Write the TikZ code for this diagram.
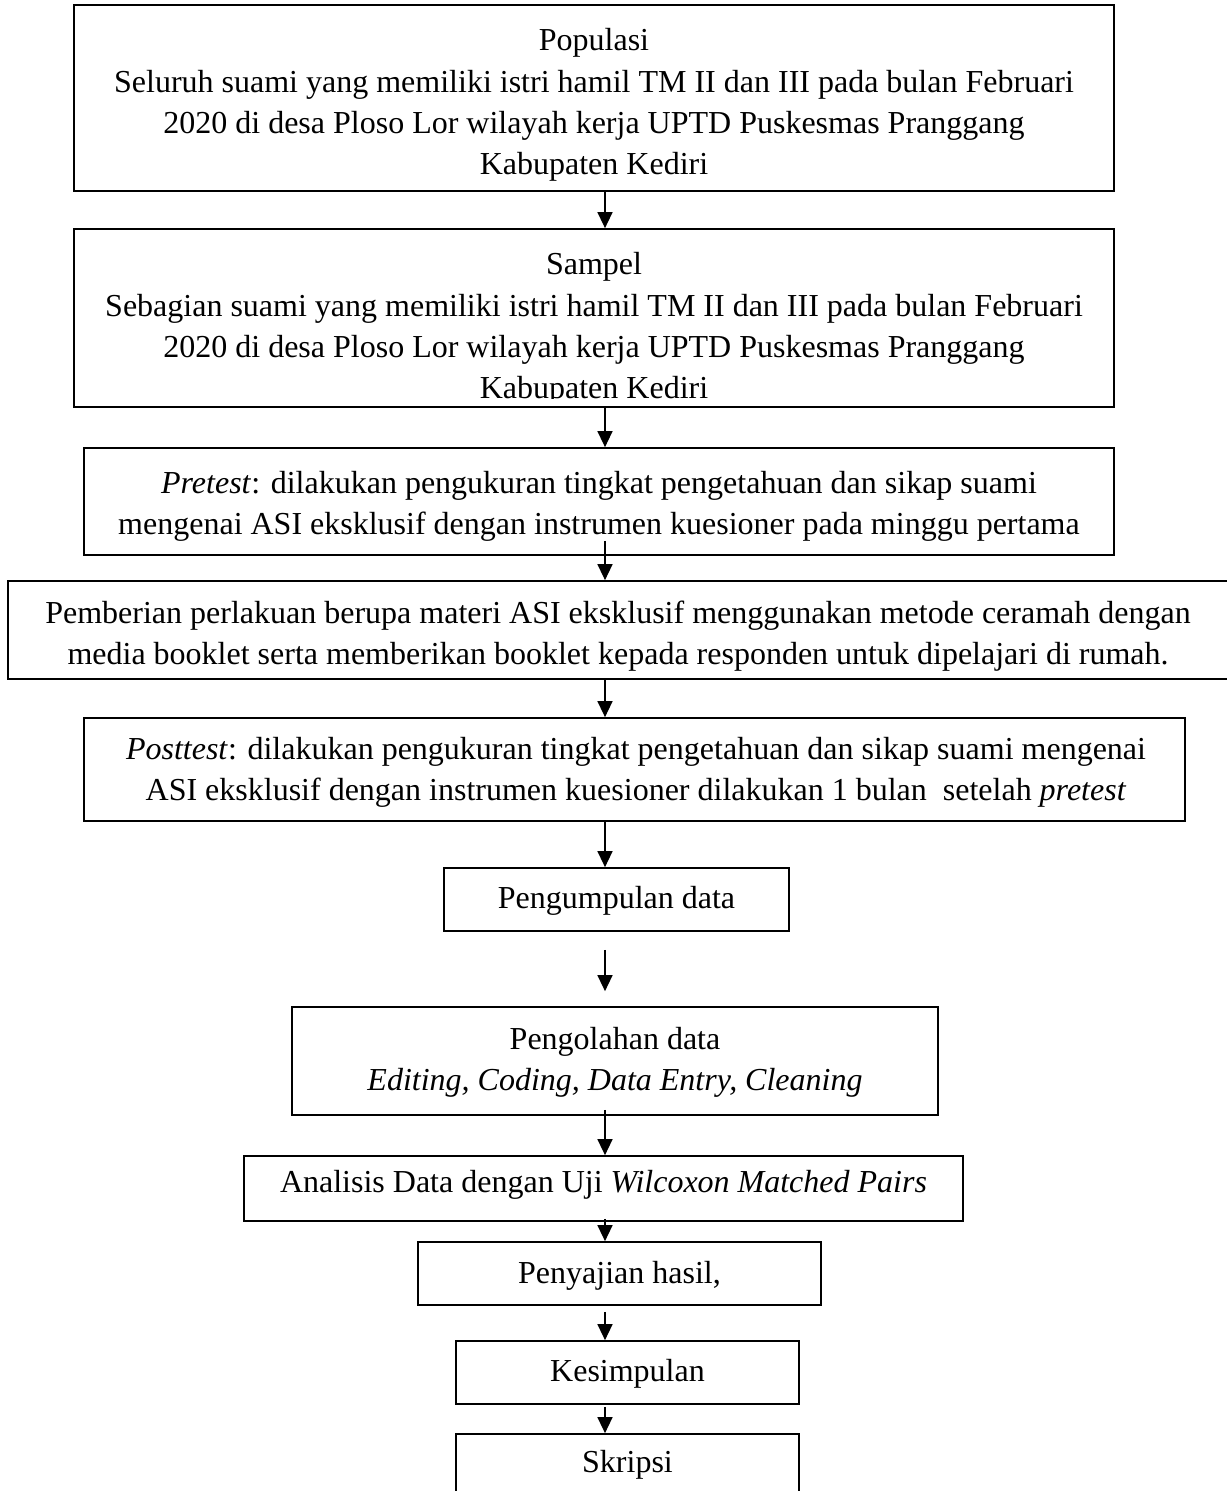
\documentclass[tikz,border=0pt]{standalone}
\usepackage{fontspec}
\setmainfont{Liberation Serif}
\usetikzlibrary{arrows.meta}
\begin{document}
\begin{tikzpicture}[x=0.5pt,y=-0.5pt,
  box/.style={draw, line width=0.85pt, inner sep=0pt},
  txt/.style={inner sep=0pt, align=center, font=\fontsize{16pt}{20.6pt}\selectfont},
  arr/.style={line width=0.7pt, -{Triangle[length=8pt,width=7.5pt]}}]
\useasboundingbox (0,0) rectangle (1226,1491);
\coordinate (ax) at (605,0);
% boxes
\node[box, minimum width=520pt, minimum height=93pt] (b1) at (594,98) {};
\node[txt] (t1) at (594,105)
  {Populasi\\ Seluruh suami yang memiliki istri hamil TM II dan III pada bulan Februari\\ 2020 di desa Ploso Lor wilayah kerja UPTD Puskesmas Pranggang\\ Kabupaten Kediri};
\node[box, minimum width=520pt, minimum height=89pt] (b2) at (594,318) {};
\begin{scope}
  \clip (b2.north west) rectangle ([yshift=4.75pt]b2.south east);
  \node[txt] (t2) at (594,329)
  {Sampel\\ Sebagian suami yang memiliki istri hamil TM II dan III pada bulan Februari\\ 2020 di desa Ploso Lor wilayah kerja UPTD Puskesmas Pranggang\\ Kabupaten Kediri};
\end{scope}
\node[box, minimum width=515pt, minimum height=53.5pt] (b3) at (599,501.5) {};
\node[txt] (t3) at (599,506)
  {\textit{Pretest}: dilakukan pengukuran tingkat pengetahuan dan sikap suami\\ mengenai ASI eksklusif dengan instrumen kuesioner pada minggu pertama};
\node[box, minimum width=610pt, minimum height=49pt] (b4) at (618,630) {};
\node[txt] (t4) at (618,636)
  {Pemberian perlakuan berupa materi ASI eksklusif menggunakan metode ceramah dengan\\ media booklet serta memberikan booklet kepada responden untuk dipelajari di rumah.};
\node[box, minimum width=550.5pt, minimum height=51.5pt] (b5) at (634.5,769.5) {};
\node[txt] (t5) at (636,772.5)
  {\textit{Posttest}: dilakukan pengukuran tingkat pengetahuan dan sikap suami mengenai\\ ASI eksklusif dengan instrumen kuesioner dilakukan 1 bulan\ \ setelah \textit{pretest}};
\node[box, minimum width=172.5pt, minimum height=31.5pt] (b6) at (616.5,899.5) {};
\node[txt] (t6) at (616.5,900.5) {Pengumpulan data};
\node[box, minimum width=323pt, minimum height=54pt] (b7) at (615,1061) {};
\node[txt] (t7) at (615,1062)
  {Pengolahan data\\ \textit{Editing, Coding, Data Entry, Cleaning}};
\node[box, minimum width=359.5pt, minimum height=32.5pt] (b8) at (603.5,1188.5) {};
\node[txt] (t8) at (603.5,1184.5) {Analisis Data dengan Uji \textit{Wilcoxon Matched Pairs}};
\node[box, minimum width=201.5pt, minimum height=31.5pt] (b9) at (619.5,1273.5) {};
\node[txt] (t9) at (619.5,1275.5) {Penyajian hasil,};
\node[box, minimum width=171.5pt, minimum height=31.5pt] (b10) at (627.5,1372.5) {};
\node[txt] (t10) at (627.5,1373.5) {Kesimpulan};
\node[box, minimum width=171.5pt, minimum height=30pt] (b11) at (627.5,1464) {};
\node[txt] (t11) at (627.5,1465) {Skripsi};
% arrows
\draw[arr] (b1.south -| ax) -- (b2.north -| ax);
\draw[arr] (b2.south -| ax) -- (b3.north -| ax);
\draw[arr] ([yshift=7.5pt]b3.south -| ax) -- (b4.north -| ax);
\draw[arr] (b4.south -| ax) -- (b5.north -| ax);
\draw[arr] (b5.south -| ax) -- (b6.north -| ax);
\draw[arr] ([yshift=-9pt]b6.south -| ax) -- ([yshift=7.5pt]b7.north -| ax);
\draw[arr] ([yshift=3pt]b7.south -| ax) -- (b8.north -| ax);
\draw[arr] ([yshift=1.5pt]b8.south -| ax) -- (b9.north -| ax);
\draw[arr] ([yshift=-3pt]b9.south -| ax) -- (b10.north -| ax);
\draw[arr] ([yshift=-1pt]b10.south -| ax) -- (b11.north -| ax);
\end{tikzpicture}
\end{document}
